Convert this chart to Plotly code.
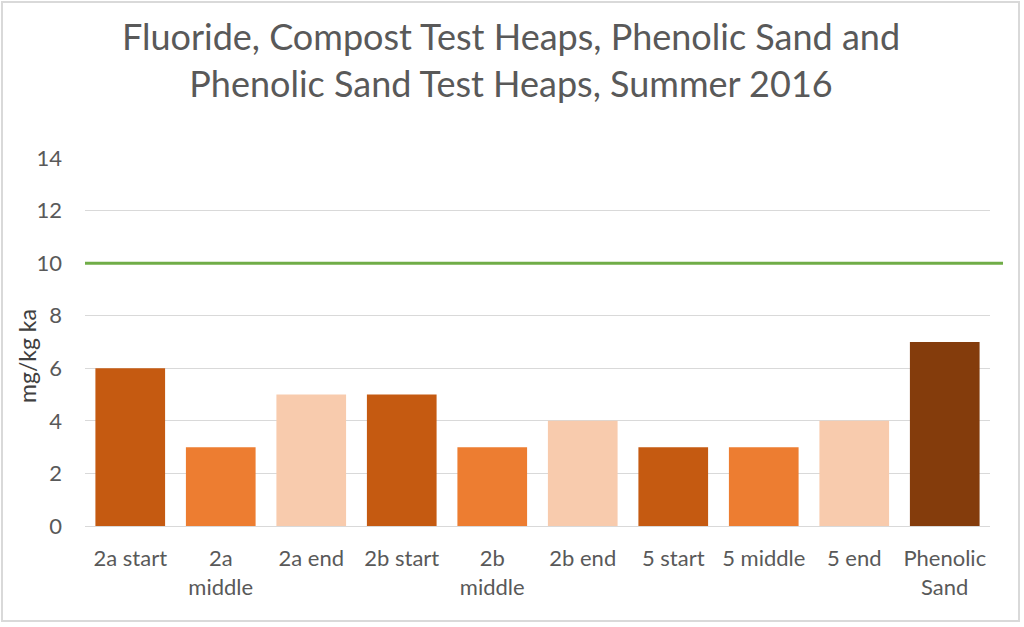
import plotly.graph_objects as go

categories = ["2a start", "2a<br>middle", "2a end", "2b start", "2b<br>middle",
              "2b end", "5 start", "5 middle", "5 end", "Phenolic<br>Sand"]
values = [6, 3, 5, 5, 3, 4, 3, 3, 4, 7]
bar_colors = ["#C55A11", "#ED7D31", "#F8CBAD", "#C55A11", "#ED7D31",
              "#F8CBAD", "#C55A11", "#ED7D31", "#F8CBAD", "#843C0C"]
limit_value = 10
y_ticks = [0, 2, 4, 6, 8, 10, 12, 14]

W, H = 1024, 627
L, R, T, B = 85, 34, 158, 101
pw = W - L - R
ph = H - T - B

FONT = "Lato, 'Open Sans', sans-serif"

fig = go.Figure()
fig.add_trace(go.Bar(x=categories, y=values, marker=dict(color=bar_colors, line=dict(width=0)),
                     width=0.77, showlegend=False, hoverinfo="x+y"))

fig.add_shape(type="line", xref="paper", yref="y",
              x0=0, x1=(1003 - L) / pw, y0=limit_value, y1=limit_value,
              line=dict(color="#70AD47", width=3), layer="above")

# outer frame
fig.add_shape(type="rect", xref="paper", yref="paper",
              x0=(2 - L) / pw, x1=(1019 - L) / pw,
              y0=-(621 - (H - B)) / ph, y1=((H - B) - 2) / ph,
              line=dict(color="#D9D9D9", width=2), fillcolor="rgba(0,0,0,0)", layer="below")

# y-axis title
fig.add_annotation(text="mg/kg ka", xref="paper", yref="paper",
                   x=(27 - L) / pw, y=((H - B) - 356) / ph, xanchor="center", yanchor="middle",
                   textangle=-90, showarrow=False,
                   font=dict(size=23, color="#404040", family=FONT))

fig.update_layout(
    width=W, height=H,
    margin=dict(l=L, r=R, t=T, b=B),
    paper_bgcolor="white", plot_bgcolor="white",
    font=dict(family=FONT, color="#595959"),
    title=dict(text="Fluoride, Compost Test Heaps, Phenolic Sand and<br>Phenolic Sand Test Heaps, Summer 2016",
               x=511 / W, xanchor="center", y=1 - 50 / H, yanchor="middle",
               font=dict(size=36, color="#595959", family=FONT)),
    xaxis=dict(showgrid=False, showline=True, linecolor="#D9D9D9", linewidth=1,
               ticks="", tickfont=dict(size=22, color="#595959", family=FONT),
               ticklabelstandoff=13, range=[-0.5, 9.5]),
    yaxis=dict(range=[0, 14], tickvals=y_ticks, showgrid=True, gridcolor="#D9D9D9",
               gridwidth=1, zeroline=False, showline=False,
               tickfont=dict(size=22, color="#595959", family=FONT), ticklabelstandoff=22),
)

fig.write_html("out.html", config={"displayModeBar": False},
               post_script="document.body.style.margin='0';document.body.style.overflow='hidden';")
